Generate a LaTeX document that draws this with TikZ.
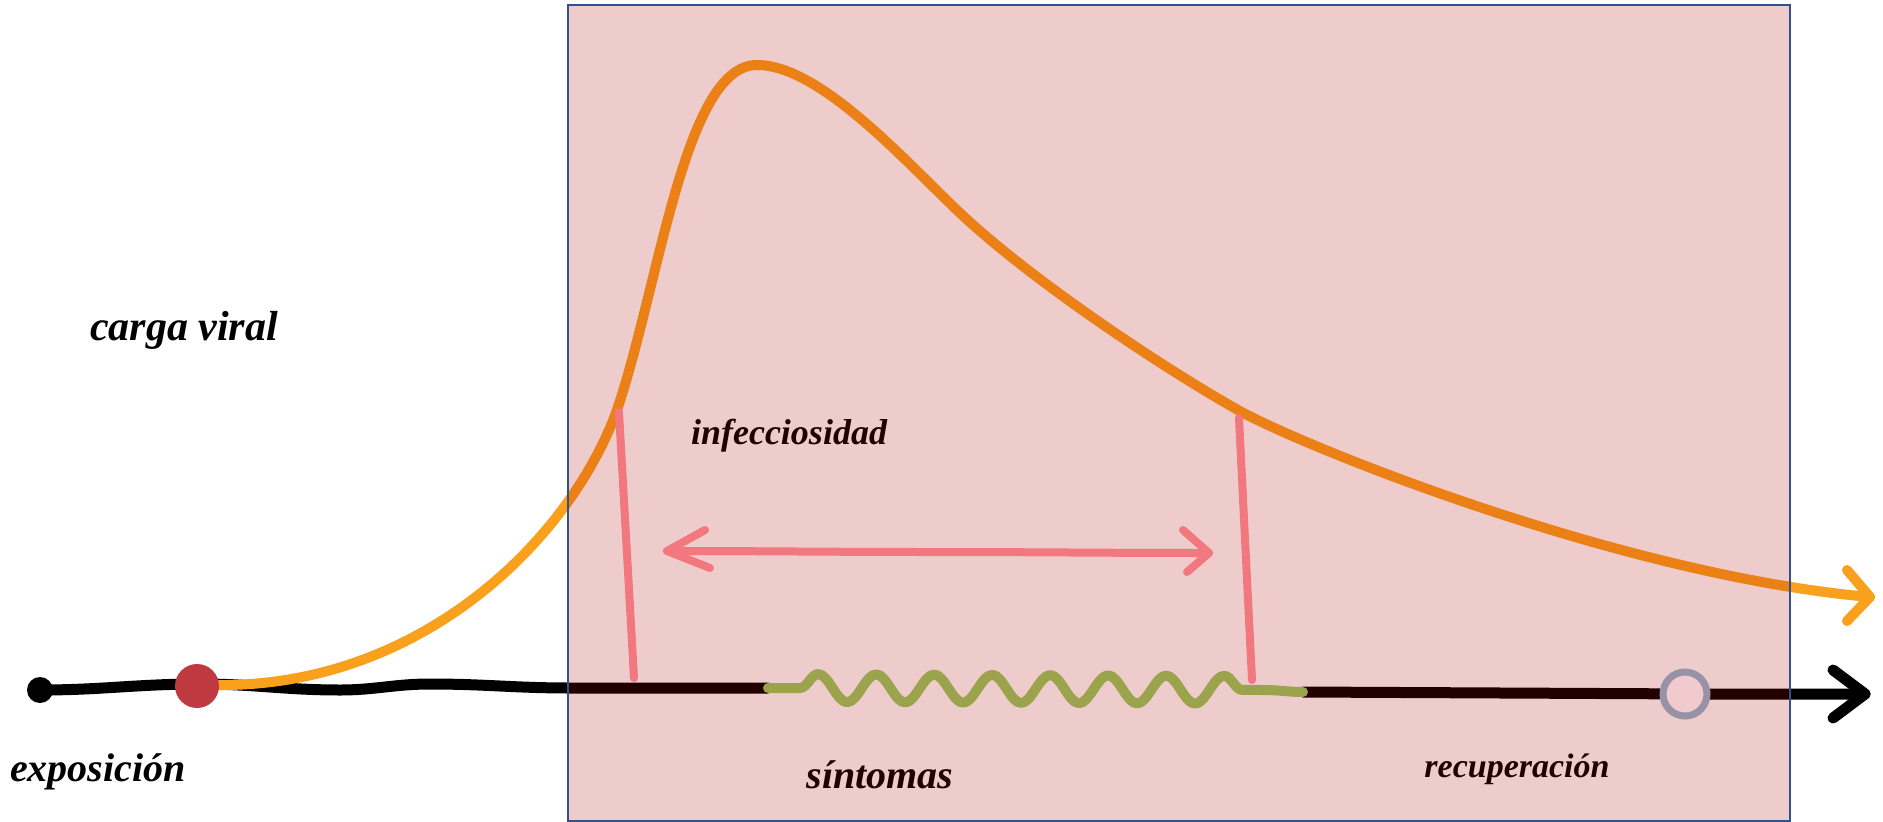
\documentclass[tikz,border=0pt]{standalone}
\usepackage{fontspec}
\setmainfont{Liberation Serif}
\usetikzlibrary{decorations.pathmorphing}
\definecolor{overlayred}{RGB}{175,0,0}
\definecolor{pinkbg}{RGB}{240,202,204}
\definecolor{borderblue}{RGB}{47,82,143}
\definecolor{orng}{RGB}{249,160,28}
\definecolor{salmon}{RGB}{240,120,126}
\definecolor{olive}{RGB}{155,164,77}
\definecolor{ringgray}{RGB}{152,146,166}
\definecolor{dotred}{RGB}{190,58,64}
\begin{document}
\begin{tikzpicture}[x=1pt,y=-1pt,
  lbl/.style={inner sep=0pt, text=black},
  fs/.style={font=\fontsize{#1}{#1}\selectfont\bfseries\itshape},
  axis/.style={line width=11pt, line cap=round, line join=round, black},
  chev/.style={line cap=round, line join=round},
  salmonline/.style={salmon, line width=8pt, line cap=round, line join=round}]
\useasboundingbox (0,0) rectangle (1883,822);
\fill[white] (0,0) rectangle (1883,822);

% coordinates
\coordinate (start) at (40,690);
\coordinate (symA) at (768,688);
\coordinate (symB) at (1303,692);
\coordinate (tip) at (1865,694);
\coordinate (ba1) at (1833,670);
\coordinate (ba2) at (1833,718);

% timeline
\draw[axis] (start) to[out=0,in=180] (200,684) to[out=0,in=180] (340,690)
  to[out=0,in=180] (430,684) to[out=0,in=180] (570,688) -- (symA);
\draw[axis] (symB) -- (1700,694) -- (tip);
\draw[axis, chev] (ba1) -- (tip) -- (ba2);

% text
\node[lbl, fs=42] (carga) at (184,330) {carga viral};
\node[lbl, fs=36] (infec) at (789,436) {infecciosidad};
\node[lbl, fs=40] (expo) at (98,772) {exposición};
\node[lbl, fs=40] (sint) at (880,775) {síntomas};
\node[lbl, fs=34] (recup) at (1517,769) {recuperación};

% orange curve
\coordinate (o0) at (215,685);
\coordinate (o1) at (617,410);
\coordinate (opeak) at (757,65);
\coordinate (o2) at (960,213);
\coordinate (o3) at (1238,410);
\coordinate (otip) at (1870,597);
\draw[orng, line width=10pt, line cap=round, line join=round]
  (o0) .. controls (420,688) and (570,540) .. (o1)
       .. controls (660,282) and (685,65) .. (opeak)
       .. controls (820,65) and (905,161) .. (o2)
       .. controls (1030,279) and (1160,366) .. (o3)
       .. controls (1300,445) and (1620,575) .. (otip);
\draw[orng, line width=10pt, chev] (1847,570) -- (otip) -- (1847,621);

% exposure dots
\fill[black] (start) circle (13);
\node[circle, fill=dotred, minimum size=44pt, inner sep=0pt] (expdot) at (197,686) {};

% overlay
\fill[overlayred, opacity=0.2] (568,5) rectangle (1790,822);

% infectiousness bracket
\coordinate (lt) at (619,412);
\coordinate (lb) at (634,678);
\coordinate (rt) at (1239,418);
\coordinate (rb) at (1252,680);
\draw[salmonline] (lt) -- (lb);
\draw[salmonline] (rt) -- (rb);
\coordinate (al) at (667,551);
\coordinate (ar) at (1209,553);
\draw[salmonline] (al) to[out=0,in=180] (930,552) to[out=0,in=180] (ar);
\draw[salmonline] (705,530) -- (al) -- (710,568);
\draw[salmonline] (1183,530) -- (ar) -- (1187,572);

% symptoms
\draw[olive, line width=10pt, line cap=round, line join=round]
  (symA) to[out=0,in=180] (800,688)
  decorate[decoration={snake, segment length=58pt, amplitude=14pt}] {-- (1264,690)}
  to[out=0,in=180] (symB);

% recovery ring
\node[circle, draw=ringgray, fill=pinkbg, line width=7pt, minimum size=44pt, inner sep=0pt] (recdot) at (1685,694) {};

% frame
\draw[borderblue, line width=2.5pt] (568,5) rectangle (1790,821);
\end{tikzpicture}
\end{document}
